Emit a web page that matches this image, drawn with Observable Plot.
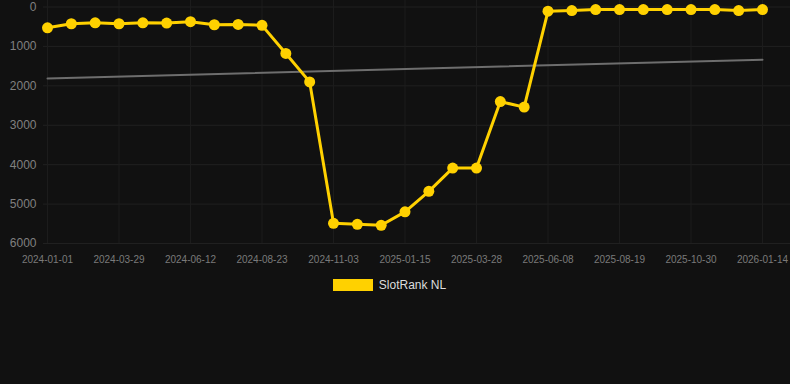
<!DOCTYPE html>
<html>
<head>
<meta charset="utf-8">
<script src="https://cdn.jsdelivr.net/npm/d3@7"></script>
<script src="https://cdn.jsdelivr.net/npm/@observablehq/plot@0.6"></script>
<style>
  html, body { margin: 0; padding: 0; background: #111111; }
  body { width: 790px; height: 384px; overflow: hidden; font-family: "Liberation Sans", Arial, sans-serif; }
  #legend { display: flex; justify-content: center; align-items: center; margin-top: 8px; margin-left: -11px; }
  #legend .sw { width: 40px; height: 12px; background: #FFD100; margin-right: 6px; }
  #legend .lb { color: #dddddd; font-size: 12px; }
</style>
</head>
<body>
<div id="chart"></div>
<div id="legend"><div class="sw"></div><div class="lb">SlotRank NL</div></div>
<script>
const dates = [
  "2024-01-01","2024-01-30","2024-02-28","2024-03-29","2024-04-23","2024-05-18",
  "2024-06-12","2024-07-06","2024-07-30","2024-08-23","2024-09-16","2024-10-10",
  "2024-11-03","2024-11-27","2024-12-22","2025-01-15","2025-02-08","2025-03-04",
  "2025-03-28","2025-04-21","2025-05-15","2025-06-08","2025-07-02","2025-07-26",
  "2025-08-19","2025-09-12","2025-10-06","2025-10-30","2025-11-24","2025-12-19",
  "2026-01-14"
];
const ranks = [
  527, 425, 400, 425, 400, 407, 373, 450, 441, 466,
  1178, 1900, 5487, 5513, 5538, 5197, 4677, 4087, 4087, 2400,
  2540, 107, 90, 64, 64, 64, 64, 64, 64, 90, 64
];
const tickLabels = [
  "2024-01-01","2024-03-29","2024-06-12","2024-08-23","2024-11-03","2025-01-15",
  "2025-03-28","2025-06-08","2025-08-19","2025-10-30","2026-01-14"
];
const yTicks = [0, 1000, 2000, 3000, 4000, 5000, 6000];
const trendStart = 1812;
const trendEnd = 1336;
const seriesName = "SlotRank NL";

const data = dates.map((d, i) => ({i, date: d, rank: ranks[i]}));
const trend = [
  {i: 0, rank: trendStart},
  {i: dates.length - 1, rank: trendEnd}
];
const tickIdx = tickLabels.map(t => dates.indexOf(t));

const chart = Plot.plot({
  width: 790,
  height: 270,
  marginTop: 7,
  marginBottom: 27,
  marginLeft: 47,
  marginRight: 28,
  style: {background: "#111111", fontFamily: "Liberation Sans, Arial, sans-serif"},
  x: {type: "linear", domain: [0, dates.length - 1]},
  y: {domain: [0, 6000], range: [6.5, 243]},
  marks: [
    Plot.ruleY(yTicks, {y: d => d, stroke: "#202020", strokeWidth: 1, insetLeft: -4, insetRight: -28}),
    Plot.ruleX(tickIdx, {x: d => d, stroke: "#1c1c1c", strokeWidth: 1, insetTop: -7}),
    Plot.axisY({ticks: yTicks, tickSize: 0, tickPadding: 11, fontSize: 12, color: "#808080", label: null, tickFormat: d => String(d)}),
    Plot.axisX({ticks: tickIdx, tickSize: 0, tickPadding: 12, fontSize: 10, color: "#7a7a7a", label: null, tickFormat: i => dates[i]}),
    Plot.line(trend, {x: "i", y: "rank", stroke: "#6e6e6e", strokeWidth: 2}),
    Plot.line(data, {x: "i", y: "rank", stroke: "#FFD100", strokeWidth: 3, title: () => seriesName}),
    Plot.dot(data, {x: "i", y: "rank", r: 5.5, fill: "#FFD100", stroke: "none"})
  ]
});
document.getElementById("chart").appendChild(chart);
</script>
</body>
</html>
